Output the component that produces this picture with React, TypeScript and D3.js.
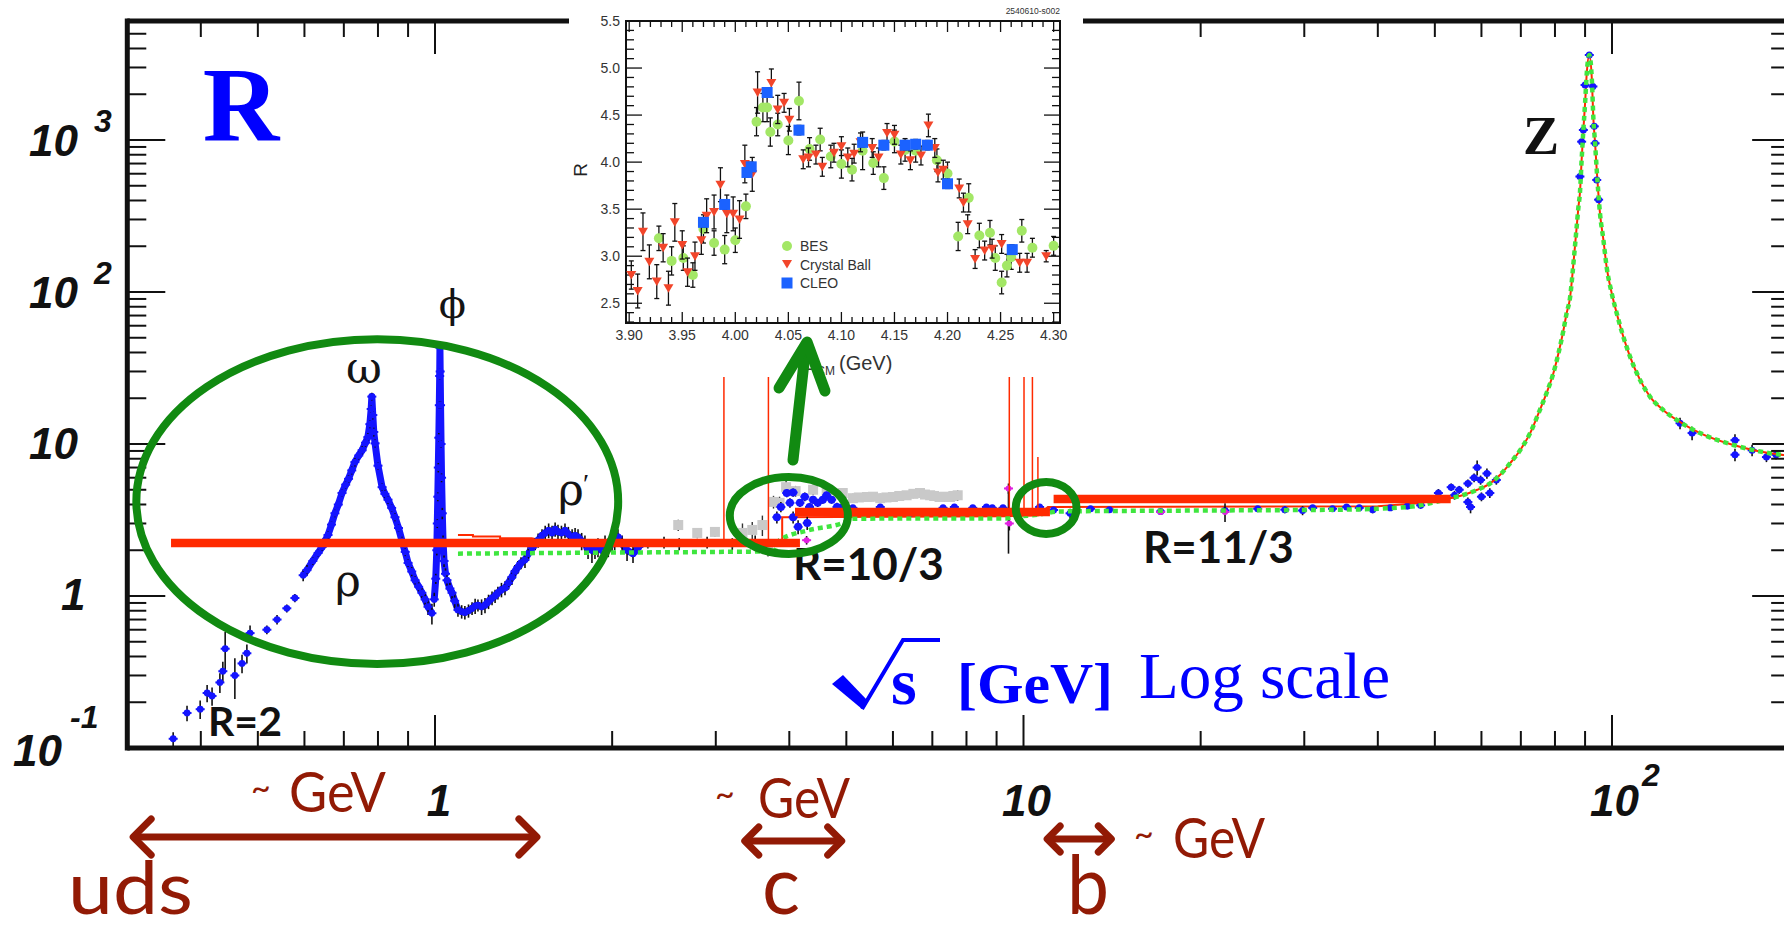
import React from "react";
import * as d3 from "d3";

type P = [number, number, number];
type C = [number, number];

// ================= MAIN PLOT DATA: [sqrt(s) GeV, R, error] =================
const lowSparse: P[] = [
  [0.359, 0.115, 0.012], [0.379, 0.17, 0.02], [0.399, 0.18, 0.025], [0.41, 0.23, 0.03],
  [0.418, 0.22, 0.03], [0.431, 0.27, 0.04], [0.436, 0.32, 0.05], [0.44, 0.45, 0.13],
  [0.457, 0.3, 0.09], [0.47, 0.36, 0.05], [0.479, 0.42, 0.06], [0.485, 0.57, 0.07],
  [0.518, 0.6, 0.04], [0.539, 0.7, 0.05], [0.56, 0.83, 0.05], [0.578, 0.97, 0.06],
];
const rhoOmega: P[] = [
  [0.597, 1.37, 0.12], [0.606, 1.48, 0.12], [0.62, 1.7, 0.1], [0.633, 1.92, 0.1], [0.643, 2.1, 0.12],
  [0.65, 2.3, 0.12], [0.658, 2.52, 0.15], [0.667, 2.95, 0.15], [0.676, 3.5, 0.2], [0.685, 4.0, 0.2],
  [0.695, 4.76, 0.25], [0.705, 5.4, 0.3], [0.713, 5.9, 0.35], [0.722, 6.7, 0.4], [0.731, 7.6, 0.5],
  [0.742, 8.4, 0.5], [0.752, 9.1, 0.6], [0.762, 10.2, 0.6], [0.769, 11.1, 0.7], [0.775, 13.5, 0.8],
  [0.779, 17, 1], [0.781, 20.5, 1.2], [0.784, 15.5, 1], [0.787, 12, 0.8], [0.791, 10.1, 0.6],
  [0.8, 7.2, 0.4], [0.813, 5.2, 0.3], [0.822, 4.7, 0.3], [0.832, 4.3, 0.25], [0.844, 3.8, 0.2],
  [0.855, 3.3, 0.2], [0.867, 2.8, 0.15], [0.879, 2.3, 0.15], [0.89, 1.95, 0.12], [0.9, 1.65, 0.1],
  [0.913, 1.45, 0.1], [0.925, 1.27, 0.08], [0.938, 1.15, 0.08], [0.95, 1.05, 0.08], [0.962, 0.95, 0.08],
  [0.973, 0.85, 0.1], [0.988, 0.77, 0.12],
];
const phiPeak: P[] = [
  [0.997, 0.95, 0.1], [1.003, 1.3, 0.1], [1.007, 2.0, 0.15], [1.009, 3.0, 0.2], [1.011, 4.5, 0.3],
  [1.013, 7, 0.5], [1.015, 11, 0.8], [1.017, 18, 1], [1.0185, 28, 1.5], [1.0195, 43, 2],
  [1.0205, 30, 1.5], [1.022, 18, 1], [1.024, 10, 0.6], [1.026, 6, 0.4], [1.029, 3.5, 0.3],
  [1.032, 2.3, 0.2], [1.036, 1.7, 0.15], [1.042, 1.4, 0.12],
];
const afterPhi: P[] = [
  [1.048, 1.27, 0.1], [1.06, 1.12, 0.1], [1.069, 1.05, 0.1], [1.08, 0.93, 0.1], [1.094, 0.81, 0.08],
  [1.11, 0.79, 0.08], [1.124, 0.78, 0.08], [1.14, 0.8, 0.08], [1.156, 0.83, 0.08], [1.17, 0.86, 0.1],
  [1.183, 0.87, 0.08], [1.2, 0.85, 0.1], [1.216, 0.87, 0.1], [1.233, 0.92, 0.1], [1.25, 0.97, 0.1],
  [1.265, 1.0, 0.1], [1.279, 1.05, 0.1], [1.297, 1.1, 0.12], [1.315, 1.13, 0.12], [1.333, 1.22, 0.12],
  [1.351, 1.33, 0.15], [1.367, 1.45, 0.15], [1.383, 1.55, 0.15], [1.4, 1.65, 0.15], [1.422, 1.73, 0.2],
  [1.44, 1.9, 0.2], [1.462, 2.07, 0.2], [1.48, 2.2, 0.2], [1.497, 2.33, 0.25], [1.52, 2.5, 0.25],
  [1.539, 2.6, 0.3], [1.56, 2.7, 0.3], [1.581, 2.6, 0.3], [1.6, 2.75, 0.3], [1.618, 2.64, 0.3],
  [1.64, 2.6, 0.3], [1.663, 2.7, 0.3], [1.685, 2.55, 0.3], [1.71, 2.45, 0.3], [1.73, 2.5, 0.3],
  [1.75, 2.45, 0.3], [1.775, 2.3, 0.3], [1.798, 2.2, 0.3], [1.82, 2.05, 0.3], [1.848, 2.0, 0.35],
  [1.87, 2.05, 0.3], [1.892, 2.1, 0.3], [1.92, 2.0, 0.3], [1.945, 2.2, 0.3], [1.97, 2.1, 0.3],
  [1.999, 2.2, 0.3], [2.02, 2.3, 0.3], [2.046, 2.45, 0.3], [2.08, 2.2, 0.3], [2.12, 2.0, 0.3],
  [2.17, 1.9, 0.25], [2.22, 2.1, 0.2],
];
const belowCharm: P[] = [
  [2.3, 2.2, 0.15], [2.45, 2.25, 0.2], [2.6, 2.2, 0.2], [2.9, 2.25, 0.2], [3.2, 2.2, 0.2], [3.5, 2.25, 0.25],
];
const greyLow: P[] = [
  [2.59, 2.93, 0.25], [2.79, 2.6, 0.2], [2.99, 2.64, 0.2], [3.33, 2.6, 0.4], [3.46, 2.72, 0.35],
  [3.6, 2.93, 0.45], [3.68, 2.07, 0.25],
];
const charmBlue: P[] = [
  [3.81, 3.3, 0.3], [3.87, 3.85, 0.3], [3.96, 4.76, 0.3], [4.01, 4.1, 0.3], [4.06, 4.8, 0.3],
  [4.06, 3.3, 0.3], [4.14, 2.85, 0.3], [4.17, 4.1, 0.25], [4.25, 4.5, 0.3], [4.29, 3.02, 0.3],
  [4.33, 3.85, 0.25], [4.39, 4.3, 0.25], [4.47, 4.1, 0.25], [4.56, 4.3, 0.25], [4.63, 4.6, 0.25],
  [4.72, 4.3, 0.25], [4.82, 3.85, 0.25], [4.91, 3.8, 0.25],
];
const charmGrey: P[] = [
  [3.76, 4.16, 0.4], [3.85, 4.1, 0.4], [3.95, 5.2, 0.5], [4.1, 4.9, 0.4], [4.39, 5.0, 0.4],
  [4.63, 4.8, 0.3], [4.93, 4.76, 0.3], [5.13, 4.4, 0.3], [5.25, 4.45, 0.3], [5.42, 4.48, 0.3],
  [5.55, 4.5, 0.3], [5.71, 4.4, 0.3], [5.85, 4.45, 0.3], [6.0, 4.48, 0.3], [6.15, 4.55, 0.3],
  [6.33, 4.6, 0.3], [6.5, 4.7, 0.3], [6.67, 4.76, 0.3], [6.8, 4.65, 0.3], [6.94, 4.6, 0.3],
  [7.05, 4.55, 0.3], [7.2, 4.48, 0.3], [7.35, 4.5, 0.3], [7.5, 4.48, 0.3], [7.6, 4.55, 0.3], [7.73, 4.6, 0.35],
];
const continuumBlue: P[] = [
  [5.13, 3.8, 0.15], [5.42, 3.57, 0.15], [5.71, 3.85, 0.15], [6.0, 3.57, 0.15], [6.42, 3.5, 0.15],
  [6.86, 3.57, 0.15], [7.3, 3.8, 0.15], [7.63, 3.85, 0.15], [7.8, 3.57, 0.2], [8.2, 3.8, 0.15],
  [8.65, 3.85, 0.15], [8.85, 3.8, 0.15], [9.23, 3.8, 0.15], [9.43, 3.5, 1.6],
];
const magentaPts: P[] = [
  [4.28, 2.33, 0.15], [9.43, 5.1, 0.4], [9.46, 3.0, 0.3], [17.1, 3.57, 0.15], [22.0, 3.57, 0.5],
];
const bottomBlue: P[] = [
  [10.65, 3.85, 0.15], [11.25, 3.68, 0.12], [12.0, 3.5, 0.25], [13.0, 3.75, 0.12], [14.0, 3.7, 0.15],
  [17.1, 3.6, 0.1], [22.0, 3.65, 0.15], [25.0, 3.75, 0.15], [27.8, 3.7, 0.2], [29.8, 3.65, 0.25],
  [31.0, 3.8, 0.15], [33.5, 3.75, 0.12], [35.4, 3.85, 0.12], [37.2, 3.8, 0.15], [39.2, 3.7, 0.2],
  [42.0, 3.8, 0.12], [44.9, 3.9, 0.15], [47.3, 3.95, 0.2],
];
const tristanBlue: P[] = [
  [50.7, 4.76, 0.3], [53.3, 5.2, 0.3], [54, 4.6, 0.3], [55, 5.0, 0.3], [56.9, 5.5, 0.35],
  [56.9, 4.15, 0.3], [57.5, 3.85, 0.35], [58.3, 6.0, 0.4], [59, 7.0, 0.8], [59.8, 5.8, 0.4],
  [60, 4.5, 0.3], [61.3, 6.4, 0.5], [62, 4.76, 0.35], [63.6, 5.8, 0.4],
];
const zPeakBlue: P[] = [
  [88.2, 575, 20], [88.8, 975, 30], [89.4, 1164, 40], [90.0, 2300, 60], [91.5, 3625, 80],
  [92.8, 2250, 60], [93.3, 1230, 40], [93.6, 951, 30], [94.2, 546, 20], [94.9, 405, 15],
];
const lep2Blue: P[] = [
  [130.5, 13.7, 1.2], [136.8, 11.8, 1.2], [161.8, 10.6, 1.0], [161.8, 8.5, 0.8], [173, 9.1, 0.8],
  [183, 8.2, 0.6], [190, 8.5, 0.6],
];

// ---- curves [sqrt(s) GeV, R] ----
const redTheoryLow: C[] = [
  [1.094, 2.52], [1.16, 2.52], [1.16, 2.46], [1.29, 2.46], [1.29, 2.4], [1.46, 2.4], [1.55, 2.28],
  [2.5, 2.22], [3.7, 2.2], [3.89, 2.2], [3.89, 3.3], [9.4, 3.35], [10.6, 3.4], [11.0, 3.85],
  [40, 3.9], [48, 4.1],
];
const qcdLow: C[] = [
  [1.094, 1.9], [2.0, 1.93], [3.0, 1.95], [3.77, 1.97], [3.85, 2.33], [4.3, 2.7], [4.93, 3.02],
  [5.13, 3.22], [7.0, 3.24], [9.3, 3.24], [9.6, 3.3], [10.7, 3.45], [11.5, 3.6], [20, 3.65],
  [35, 3.7], [45, 3.85], [50, 4.15],
];
const zCurve: C[] = [
  [53.0, 4.39], [55.9, 4.62], [58.9, 4.98], [62.1, 5.51], [64.5, 6.25], [67.1, 7.46], [69.8, 9.1],
  [72.6, 11.8], [75, 15.9], [77.4, 21.6], [79.5, 29.2], [81.1, 39.5], [82.7, 56], [83.7, 72],
  [84.9, 93], [85.7, 133], [86.5, 199], [87.1, 269], [87.7, 364], [88.2, 446], [88.8, 739],
  [89.4, 1164], [90.0, 1740], [90.6, 2750], [91.5, 3625], [92.4, 2546], [93.0, 1354], [93.6, 951],
  [94.2, 635], [94.8, 446], [95.4, 330], [96.7, 220], [97.9, 147], [99.9, 98], [101.9, 72],
  [104.5, 51], [107.3, 37.6], [111.6, 26.4], [116, 20.5], [122.3, 16.7], [128.8, 14.4],
  [141.1, 11.8], [160.8, 9.85], [195.4, 8.47], [200, 8.4],
];
// naive quark-model levels: [from GeV, to GeV, R]
const naiveLevels: P[] = [[0.356, 4.17, 2.23], [4.09, 11.09, 3.57], [11.25, 53.2, 4.35]];
// narrow resonances: [mass GeV, peak R, base R]
const resonances: P[] = [
  [3.097, 5000, 2.2], [3.686, 5000, 2.3], [9.46, 5000, 3.6], [10.02, 5000, 3.6],
  [10.355, 5000, 3.6], [10.58, 8.2, 3.6],
];

// ================= INSET DATA: [E_cm GeV, R, error] =================
const besData: P[] = [
  [3.928, 3.19, 0.13], [3.94, 2.95, 0.15], [3.951, 2.98, 0.13], [3.96, 2.8, 0.13], [3.97, 3.29, 0.15],
  [3.98, 3.14, 0.13], [3.99, 3.07, 0.15], [4.0, 3.17, 0.13], [4.01, 3.53, 0.13], [4.02, 4.43, 0.15],
  [4.026, 4.58, 0.15], [4.03, 4.58, 0.15], [4.033, 4.32, 0.15], [4.04, 4.4, 0.12], [4.05, 4.23, 0.15],
  [4.06, 4.65, 0.2], [4.07, 4.14, 0.12], [4.08, 4.24, 0.12], [4.09, 4.06, 0.12], [4.1, 3.98, 0.15],
  [4.11, 3.92, 0.12], [4.12, 4.12, 0.2], [4.13, 3.99, 0.12], [4.14, 3.83, 0.12], [4.15, 4.22, 0.12],
  [4.16, 4.13, 0.12], [4.17, 4.12, 0.12], [4.19, 4.02, 0.12], [4.2, 3.88, 0.12], [4.21, 3.21, 0.15],
  [4.22, 3.62, 0.15], [4.23, 3.22, 0.13], [4.24, 3.25, 0.13], [4.245, 2.98, 0.13], [4.251, 2.72, 0.12],
  [4.256, 2.9, 0.12], [4.26, 2.99, 0.13], [4.27, 3.27, 0.12], [4.28, 3.09, 0.1], [4.3, 3.11, 0.1],
];
const cbData: P[] = [
  [3.902, 2.8, 0.15], [3.908, 2.63, 0.18], [3.913, 3.26, 0.2], [3.919, 2.94, 0.18], [3.926, 2.73, 0.18],
  [3.932, 3.09, 0.15], [3.937, 2.66, 0.18], [3.943, 3.36, 0.2], [3.95, 3.12, 0.15], [3.955, 2.83, 0.15],
  [3.962, 3.0, 0.15], [3.968, 3.17, 0.15], [3.973, 3.43, 0.18], [3.98, 3.47, 0.18], [3.986, 3.76, 0.18],
  [3.992, 3.45, 0.2], [3.998, 3.45, 0.18], [4.004, 3.39, 0.2], [4.009, 3.98, 0.2], [4.016, 3.87, 0.18],
  [4.021, 4.74, 0.22], [4.034, 4.84, 0.15], [4.04, 4.56, 0.15], [4.046, 4.63, 0.1], [4.051, 4.45, 0.12],
  [4.064, 4.03, 0.1], [4.069, 4.05, 0.1], [4.076, 4.08, 0.1], [4.082, 3.95, 0.1], [4.093, 4.1, 0.1],
  [4.1, 4.17, 0.1], [4.106, 4.05, 0.1], [4.112, 4.09, 0.1], [4.118, 4.21, 0.1], [4.129, 4.15, 0.1],
  [4.135, 4.05, 0.1], [4.143, 4.31, 0.1], [4.15, 4.29, 0.1], [4.156, 4.08, 0.1], [4.165, 4.02, 0.1],
  [4.175, 4.07, 0.1], [4.182, 4.39, 0.12], [4.188, 4.15, 0.1], [4.191, 3.89, 0.1], [4.196, 3.92, 0.1],
  [4.211, 3.72, 0.1], [4.215, 3.57, 0.1], [4.219, 3.34, 0.1], [4.226, 2.97, 0.1], [4.235, 3.06, 0.1],
  [4.242, 3.08, 0.1], [4.251, 3.13, 0.1], [4.268, 2.93, 0.1], [4.275, 2.93, 0.1], [4.293, 3.0, 0.06],
];
const cleoData: P[] = [
  [3.97, 3.36, 0.05], [3.99, 3.55, 0.05], [4.011, 3.89, 0.05], [4.015, 3.95, 0.05], [4.03, 4.74, 0.05],
  [4.06, 4.34, 0.05], [4.12, 4.21, 0.05], [4.14, 4.18, 0.05], [4.16, 4.18, 0.05], [4.17, 4.19, 0.05],
  [4.181, 4.18, 0.05], [4.2, 3.77, 0.05], [4.261, 3.07, 0.05],
];
const insetLegend = ["BES", "Crystal Ball", "CLEO"];
const insetXTicks = ["3.90", "3.95", "4.00", "4.05", "4.10", "4.15", "4.20", "4.25", "4.30"];
const insetYTicks = ["2.5", "3.0", "3.5", "4.0", "4.5", "5.0", "5.5"];

// ================= SCALES =================
const xM = d3.scaleLog().domain([1, 100]).range([435, 1612]);
const yM = d3.scaleLog().domain([0.1, 1000]).range([748, 140]);
const X_L = xM(0.3);
const X_R = xM(200) + 1;
const Y_T = 21;
const Y_B = yM(0.1);

const xI = d3.scaleLinear().domain([3.897, 4.306]).range([626, 1060]);
const yI = d3.scaleLinear().domain([2.29, 5.5]).range([323, 21]);

const BLUE = "#1414ff";
const RED = "#ff2a00";
const GREEN = "#118a11";
const DARKRED = "#921a05";

const lineM = d3.line<C>().x((d) => xM(d[0])).y((d) => yM(d[1]));
const lineMono = d3.line<C>().x((d) => xM(d[0])).y((d) => yM(d[1])).curve(d3.curveMonotoneX);

function Pts({ data, fill, r = 3.4, connect = false }: { data: P[]; fill: string; r?: number; connect?: boolean }) {
  const path = connect ? lineM(data.map((d) => [d[0], d[1]] as C)) : null;
  return (
    <g>
      {path && <path d={path} fill="none" stroke={fill} strokeWidth={7} strokeLinejoin="round" />}
      {data.map(([e, v, err], i) => (
        <line key={"e" + i} x1={xM(e)} x2={xM(e)} y1={yM(Math.max(v - err, 0.02))} y2={yM(v + err)} stroke="#111" strokeWidth={1.6} />
      ))}
      {data.map(([e, v], i) => (
        <g key={"p" + i}>
          <line x1={xM(e) - 4.5} x2={xM(e) + 4.5} y1={yM(v)} y2={yM(v)} stroke={fill} strokeWidth={2} />
          <circle cx={xM(e)} cy={yM(v)} r={r} fill={fill} />
        </g>
      ))}
    </g>
  );
}

function GreyPts({ data }: { data: P[] }) {
  return (
    <g>
      {data.map(([e, v, err], i) => (
        <g key={i}>
          <line x1={xM(e)} x2={xM(e)} y1={yM(v - err)} y2={yM(v + err)} stroke="#333" strokeWidth={1.4} />
          <rect x={xM(e) - 5} y={yM(v) - 5} width={10} height={10} fill="#c9c9c9" />
        </g>
      ))}
    </g>
  );
}

function MainAxes() {
  const xt: { v: number; major: boolean }[] = [];
  for (const d of [-1, 0, 1, 2]) for (let m = 1; m <= 9; m++) {
    const v = m * Math.pow(10, d);
    if (v > 0.31 && v < 199) xt.push({ v, major: m === 1 });
  }
  const yt: { v: number; major: boolean }[] = [];
  for (const d of [-1, 0, 1, 2, 3]) for (let m = 1; m <= 9; m++) {
    const v = m * Math.pow(10, d);
    if (v > 0.1 && v < 6000) yt.push({ v, major: m === 1 });
  }
  return (
    <g stroke="#111">
      {xt.map((t, i) => (
        <g key={"x" + i} strokeWidth={2}>
          <line x1={xM(t.v)} x2={xM(t.v)} y1={Y_B} y2={Y_B - (t.major ? 33 : 17)} />
          <line x1={xM(t.v)} x2={xM(t.v)} y1={Y_T} y2={Y_T + (t.major ? 33 : 16)} />
        </g>
      ))}
      {yt.map((t, i) => (
        <g key={"y" + i} strokeWidth={2}>
          <line x1={X_L} x2={X_L + (t.major ? 38 : 19)} y1={yM(t.v)} y2={yM(t.v)} />
          <line x1={X_R} x2={X_R - (t.major ? 38 : 19)} y1={yM(t.v)} y2={yM(t.v)} />
        </g>
      ))}
      <line x1={X_L} x2={X_R + 3} y1={Y_T} y2={Y_T} strokeWidth={5} />
      <line x1={X_L} x2={X_R + 3} y1={Y_B} y2={Y_B} strokeWidth={5} />
      <line x1={X_L} x2={X_L} y1={Y_T - 2.5} y2={Y_B + 2.5} strokeWidth={5} />
      <line x1={X_R} x2={X_R} y1={Y_T} y2={Y_B} strokeWidth={5} />
    </g>
  );
}

function MainLabels() {
  const f = { fontFamily: "Liberation Sans, Arial, sans-serif", fontWeight: 700, fontStyle: "italic" as const, fill: "#111" };
  return (
    <g {...f}>
      <text x={29} y={yM(1000) + 16} fontSize={44}>10</text>
      <text x={94} y={yM(1000) - 8} fontSize={32}>3</text>
      <text x={29} y={yM(100) + 16} fontSize={44}>10</text>
      <text x={94} y={yM(100) - 8} fontSize={32}>2</text>
      <text x={29} y={yM(10) + 15} fontSize={44}>10</text>
      <text x={61} y={yM(1) + 14} fontSize={44}>1</text>
      <text x={13} y={yM(0.1) + 18} fontSize={44}>10</text>
      <text x={70} y={yM(0.1) - 20} fontSize={32}>-1</text>
      <text x={xM(1) + 4} y={816} fontSize={44} textAnchor="middle">1</text>
      <text x={xM(10) + 3} y={816} fontSize={44} textAnchor="middle">10</text>
      <text x={xM(100) - 22} y={816} fontSize={44}>10</text>
      <text x={xM(100) + 30} y={786} fontSize={32}>2</text>
    </g>
  );
}

function Inset() {
  const xt: { v: number; major: boolean }[] = [];
  for (let i = 0; i <= 40; i++) xt.push({ v: 3.9 + i * 0.01, major: i % 5 === 0 });
  const yt: { v: number; major: boolean }[] = [];
  for (let i = 0; i <= 32; i++) yt.push({ v: 2.3 + i * 0.1, major: (23 + i) % 5 === 0 });
  const sans = "Liberation Sans, Arial, sans-serif";
  const err = (data: P[]) =>
    data.map(([e, v, s], i) => (
      <g key={i} stroke="#111" strokeWidth={1.3}>
        <line x1={xI(e)} x2={xI(e)} y1={yI(v - s)} y2={yI(v + s)} />
        <line x1={xI(e) - 2.5} x2={xI(e) + 2.5} y1={yI(v - s)} y2={yI(v - s)} />
        <line x1={xI(e) - 2.5} x2={xI(e) + 2.5} y1={yI(v + s)} y2={yI(v + s)} />
      </g>
    ));
  const tri = (cx: number, cy: number, s: number) => `M${cx - s},${cy - s * 0.8} L${cx + s},${cy - s * 0.8} L${cx},${cy + s * 0.9} Z`;
  return (
    <g>
      <rect x={569} y={0} width={514} height={377} fill="#fff" />
      <text x={1060} y={14} fontSize={8.5} fontFamily={sans} textAnchor="end" fill="#333">2540610-s002</text>
      <g stroke="#111" strokeWidth={1.3}>
        {xt.map((t, i) => (
          <g key={i}>
            <line x1={xI(t.v)} x2={xI(t.v)} y1={323} y2={323 - (t.major ? 11 : 6)} />
            <line x1={xI(t.v)} x2={xI(t.v)} y1={21} y2={21 + (t.major ? 11 : 6)} />
          </g>
        ))}
        {yt.map((t, i) => (
          <g key={i}>
            <line x1={626} x2={626 + (t.major ? 16 : 8)} y1={yI(t.v)} y2={yI(t.v)} />
            <line x1={1060} x2={1060 - (t.major ? 16 : 8)} y1={yI(t.v)} y2={yI(t.v)} />
          </g>
        ))}
      </g>
      <rect x={626} y={21} width={434} height={302} fill="none" stroke="#111" strokeWidth={2} />
      <g fontFamily={sans} fontSize={14} fill="#333">
        {insetXTicks.map((l, i) => (
          <text key={l} x={xI(3.9 + i * 0.05)} y={340} textAnchor="middle">{l}</text>
        ))}
        {insetYTicks.map((l, i) => (
          <text key={l} x={620} y={yI(2.5 + i * 0.5) + 5} textAnchor="end">{l}</text>
        ))}
      </g>
      <text x={0} y={0} transform="translate(587,170) rotate(-90)" fontFamily={sans} fontSize={19} textAnchor="middle" fill="#222">R</text>
      <text x={803} y={370} fontFamily={sans} fontSize={20} fill="#333">
        E<tspan fontSize={12} dy={5}>CM</tspan><tspan dy={-5} dx={4}>(GeV)</tspan>
      </text>
      {err(besData)}
      {besData.map(([e, v], i) => <circle key={i} cx={xI(e)} cy={yI(v)} r={5} fill="#a3e766" />)}
      {err(cbData)}
      {cbData.map(([e, v], i) => <path key={i} d={tri(xI(e), yI(v), 5)} fill="#f2452a" />)}
      {err(cleoData)}
      {cleoData.map(([e, v], i) => <rect key={i} x={xI(e) - 5.5} y={yI(v) - 5.5} width={11} height={11} fill="#1b62ff" />)}
      <circle cx={787} cy={246} r={5} fill="#a3e766" />
      <path d={tri(787, 264, 5)} fill="#f2452a" />
      <rect x={781.5} y={277.5} width={11} height={11} fill="#1b62ff" />
      <g fontFamily={sans} fontSize={14} fill="#333">
        {insetLegend.map((l, i) => (
          <text key={l} x={800} y={251 + i * 18.5}>{l}</text>
        ))}
      </g>
    </g>
  );
}

function Ellipse({ e0, e1, r0, r1 }: { e0: number; e1: number; r0: number; r1: number }) {
  const x0 = xM(e0), x1 = xM(e1), y0 = yM(r1), y1 = yM(r0);
  return <ellipse cx={(x0 + x1) / 2} cy={(y0 + y1) / 2} rx={(x1 - x0) / 2 - 4} ry={(y1 - y0) / 2 - 4} fill="none" stroke={GREEN} strokeWidth={8} />;
}

function DoubleArrow({ x0, x1, y, h }: { x0: number; x1: number; y: number; h: number }) {
  return (
    <g stroke={DARKRED} strokeWidth={7} fill="none" strokeLinecap="round" strokeLinejoin="round">
      <line x1={x0 + 3} x2={x1 - 3} y1={y} y2={y} />
      <path d={`M${x0 + h},${y - h} L${x0},${y} L${x0 + h},${y + h}`} />
      <path d={`M${x1 - h},${y - h} L${x1},${y} L${x1 - h},${y + h}`} />
    </g>
  );
}

export default function App() {
  const greek = { fontFamily: "DejaVu Serif, Liberation Serif, serif", fill: "#141414" };
  const calib = { fontFamily: "Lato, Open Sans, sans-serif" };
  return (
    <svg width={1784} height={931} style={{ position: "absolute", left: 0, top: 0, background: "#fff" }}>
      <rect width={1784} height={931} fill="#fff" />
      <GreyPts data={greyLow} />
      <GreyPts data={charmGrey} />
      <path d={lineM(redTheoryLow) || ""} fill="none" stroke={RED} strokeWidth={2} />
      <Pts data={lowSparse} fill={BLUE} />
      <Pts data={rhoOmega} fill={BLUE} connect />
      <Pts data={phiPeak} fill={BLUE} connect />
      <Pts data={afterPhi} fill={BLUE} connect />
      <Pts data={belowCharm} fill="#22d0e0" />
      <Pts data={charmBlue} fill={BLUE} r={4} />
      <Pts data={continuumBlue} fill={BLUE} r={3.5} />
      <Pts data={bottomBlue} fill={BLUE} r={3.5} />
      <Pts data={magentaPts} fill="#e020e0" r={3} />
      <Pts data={tristanBlue} fill={BLUE} r={3.5} />
      <Pts data={lep2Blue} fill={BLUE} r={3.5} />
      {resonances.map(([m, pk, base], i) => (
        <line key={i} x1={xM(m)} x2={xM(m)} y1={yM(base)} y2={yM(pk)} stroke={RED} strokeWidth={1.5} />
      ))}
      <path d={lineMono(zCurve) || ""} fill="none" stroke={RED} strokeWidth={2} />
      <Pts data={zPeakBlue} fill={BLUE} r={3.5} />
      <path d={lineMono([...qcdLow, ...zCurve]) || ""} fill="none" stroke="#3fe63f" strokeWidth={4.5} strokeDasharray="5 4" />
      {naiveLevels.map(([a, b, r], i) => (
        <line key={i} x1={xM(a)} x2={xM(b)} y1={yM(r)} y2={yM(r)} stroke={RED} strokeWidth={8.5} />
      ))}

      <MainAxes />
      <MainLabels />

      <text x={xM(0.781) - 8} y={383} fontSize={44} textAnchor="middle" {...greek}>ω</text>
      <text x={xM(1.07)} y={318} fontSize={40} textAnchor="middle" {...greek}>ϕ</text>
      <text x={348} y={596} fontSize={44} textAnchor="middle" {...greek}>ρ</text>
      <text x={571} y={505} fontSize={44} textAnchor="middle" {...greek}>ρ</text>
      <text x={583} y={493} fontSize={28} fontFamily="Liberation Serif, serif" fill="#141414">′</text>
      <text x={1541} y={154} fontSize={54} fontWeight={700} textAnchor="middle" fontFamily="Liberation Serif, serif" fill="#111">Z</text>
      <text x={241} y={140} fontSize={106} fontWeight={700} textAnchor="middle" fontFamily="Liberation Serif, serif" fill="#0000ff">R</text>

      <text x={208} y={736} fontSize={41} fontWeight={700} {...calib} fill="#111">R=2</text>
      <text x={793} y={580} fontSize={44} fontWeight={700} {...calib} fill="#111">R=10/3</text>
      <text x={1143} y={563} fontSize={44} fontWeight={700} {...calib} fill="#111">R=11/3</text>

      <Ellipse e0={0.306} e1={2.08} r0={0.336} r1={52} />
      <Ellipse e0={3.12} e1={5.11} r0={1.78} r1={6.44} />
      <Ellipse e0={9.55} e1={12.5} r0={2.41} r1={5.98} />

      <g fill="#0000ff">
        <path d="M832,684 L843,675 L867,700 L862,709 Z" />
        <path d="M862,709 L903,640 L940,640" fill="none" stroke="#0000ff" strokeWidth={4} />
        <text x={891} y={704} fontSize={66} fontWeight={700} fontFamily="Liberation Serif, serif">s</text>
        <text x={957} y={703} fontSize={57} fontWeight={700} fontFamily="Liberation Serif, serif" textLength={156} lengthAdjust="spacingAndGlyphs">[GeV]</text>
        <text x={1139} y={698} fontSize={65} fontFamily="Liberation Serif, serif" textLength={251} lengthAdjust="spacingAndGlyphs">Log scale</text>
      </g>

      <Inset />

      <g stroke={GREEN} strokeWidth={11} fill="none" strokeLinecap="round" strokeLinejoin="round">
        <line x1={793} y1={460} x2={806} y2={345} />
        <path d="M779,388 L807,342 L825,391" />
      </g>

      <g {...calib} fill={DARKRED}>
        <text x={251} y={800} fontSize={34}>~</text>
        <text x={289} y={812} fontSize={56} textLength={97} lengthAdjust="spacingAndGlyphs">GeV</text>
        <text x={715} y={806} fontSize={34}>~</text>
        <text x={758} y={818} fontSize={56} textLength={92} lengthAdjust="spacingAndGlyphs">GeV</text>
        <text x={1134} y={846} fontSize={34}>~</text>
        <text x={1173} y={858} fontSize={56} textLength={92} lengthAdjust="spacingAndGlyphs">GeV</text>
        <text x={68} y={914} fontSize={74} textLength={125} lengthAdjust="spacingAndGlyphs">uds</text>
        <text x={762} y={914} fontSize={82} textLength={38} lengthAdjust="spacingAndGlyphs">c</text>
        <text x={1067} y={914} fontSize={82} textLength={42} lengthAdjust="spacingAndGlyphs">b</text>
      </g>
      <DoubleArrow x0={xM(0.307)} x1={xM(1.49)} y={837} h={18} />
      <DoubleArrow x0={xM(3.36)} x1={xM(4.91)} y={841} h={14} />
      <DoubleArrow x0={xM(10.97)} x1={xM(14.1)} y={839} h={13} />
    </svg>
  );
}
